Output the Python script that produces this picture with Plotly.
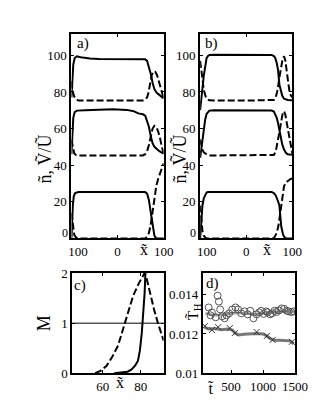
import plotly.graph_objects as go

# ---- panel a) profiles (solid = n, dashed = V/U), three stacked cases
a_top_solid_x = [-100, -98, -96, -93, -88, -80, -60, -40, -20, 0, 20, 40, 60, 64, 68, 72, 76, 80, 85, 90, 95, 100]
a_top_solid_y = [77, 88, 95, 98.5, 99.5, 99, 98.2, 98, 98, 98, 98, 98, 97.8, 97, 94, 90, 85, 81.5, 79.5, 78.5, 77.5, 76.5]
a_top_dash_x = [-100, -97, -94, -90, -85, -70, 0, 55, 60, 64, 67, 70, 74, 78, 82, 86, 90, 94, 97, 100]
a_top_dash_y = [86, 80, 77.5, 76, 75.3, 75.3, 75.3, 75.3, 75.8, 77, 79.5, 84, 89, 91.3, 91, 89, 85.5, 81, 78, 76.5]
a_mid_solid_x = [-100, -98, -96, -93, -88, -70, -40, -10, 20, 35, 45, 55, 60, 64, 68, 72, 76, 80, 85, 90, 95, 100]
a_mid_solid_y = [46, 58, 66, 69, 69.8, 70, 70.3, 70.5, 70.2, 69.5, 68.3, 67.8, 67, 64.5, 61, 56, 52, 50, 48.7, 47.8, 47, 46.3]
a_mid_dash_x = [-100, -97, -94, -90, -85, -70, 0, 55, 60, 64, 68, 72, 76, 80, 84, 88, 92, 96, 100]
a_mid_dash_y = [54, 49, 46.5, 45.5, 45.3, 45.3, 45.3, 45.3, 46, 47.5, 51, 56, 60, 61.5, 61, 58.5, 55, 50, 46.5]
a_bot_solid_x = [-100, -99, -97, -95, -92, -85, 0, 60, 64, 68, 71, 74, 77, 80, 83, 86, 100]
a_bot_solid_y = [0, 8, 18, 23, 24.8, 25.3, 25.3, 25.3, 24.5, 21, 16, 10.5, 5, 1.5, 0.3, 0, 0]
a_bot_dash_x = [-100, -97, -94, -90, -85, 0, 60, 64, 68, 72, 76, 80, 84, 88, 92, 96, 100]
a_bot_dash_y = [14, 6, 2, 0.5, 0, 0, 0, 1, 3, 7.5, 15, 23, 28.5, 32.5, 35.5, 38.5, 41]

# ---- panel b)
b_top_solid_x = [-100, -98, -95, -92, -89, -86, -83, -80, -70, 0, 55, 60, 63, 66, 69, 72, 75, 78, 82, 86, 90, 100]
b_top_solid_y = [70, 76, 82, 89, 95, 98.5, 99.7, 100.2, 100.3, 100.3, 100.2, 99.6, 98.5, 96, 92, 84, 80, 78, 76.3, 75.8, 75.6, 75.5]
b_top_dash_x = [-100, -98, -95, -92, -88, -84, -80, -70, 0, 55, 60, 64, 68, 72, 76, 79, 82, 85, 88, 91, 94, 97, 100]
b_top_dash_y = [97, 92, 86, 81, 77.5, 76, 75.4, 75.3, 75.3, 75.3, 75.6, 77, 81, 88, 94.5, 98, 99.5, 97, 91, 84, 80, 78, 77]
b_mid_solid_x = [-100, -98, -95, -92, -89, -86, -83, -80, -70, 0, 55, 60, 63, 66, 69, 72, 75, 78, 82, 86, 90, 100]
b_mid_solid_y = [44, 48, 54, 60, 65, 68, 69.3, 69.8, 70, 70, 69.8, 69.3, 67.5, 66, 63, 59, 55, 51.5, 48.5, 46.8, 46, 45.7]
b_mid_dash_x = [-100, -98, -95, -92, -88, -84, -80, -70, 0, 55, 60, 64, 68, 72, 76, 79, 82, 85, 88, 91, 94, 97, 100]
b_mid_dash_y = [54, 51, 48.5, 47, 46, 45.5, 45.3, 45.3, 45.3, 45.3, 45.6, 47.5, 52, 58, 64, 68, 69.5, 67.5, 63, 59, 54, 49, 46.5]
b_bot_solid_x = [-100, -99, -97, -95, -92, -89, -86, -83, -80, 0, 55, 60, 64, 68, 72, 74, 76, 80, 84, 88, 100]
b_bot_solid_y = [0, 5, 12, 18, 22, 24, 25, 25.3, 25.3, 25.3, 25.3, 24.8, 23.5, 21, 18, 12, 6.5, 2, 0.3, 0, 0]
b_bot_dash_x = [-100, -98, -95, -92, -88, -84, 0, 58, 62, 66, 70, 73, 76, 79, 82, 86, 90, 95, 100]
b_bot_dash_y = [18, 10, 4, 1.5, 0.3, 0, 0, 0, 1, 3, 7, 12, 18.5, 24, 28.5, 30.5, 31.5, 32.3, 32.8]

# ---- panel c) M vs x
c_dash_x = [56, 59, 62, 65, 68, 70, 73, 76, 79, 81, 82, 83, 85, 87, 89, 91, 92]
c_dash_y = [0.0, 0.05, 0.15, 0.33, 0.55, 0.8, 1.2, 1.55, 1.8, 1.95, 2.0, 1.9, 1.55, 1.27, 1.0, 0.76, 0.65]
c_solid_x = [66, 70, 73, 75, 77, 78.5, 79.5, 80.5, 81.3, 82, 82.5]
c_solid_y = [0, 0.01, 0.03, 0.07, 0.15, 0.25, 0.45, 0.8, 1.2, 1.6, 2.1]

# ---- panel d) T_H vs t
d_circ_t = [150, 180, 200, 260, 290, 310, 330, 360, 400, 430, 470, 520, 570, 610, 660, 710, 760, 800,
            850, 900, 940, 970, 1010, 1050, 1070, 1110, 1140, 1180, 1210, 1250, 1290, 1330, 1370, 1400, 1440, 1480]
d_circ_v = [0.01335, 0.01295, 0.0131, 0.01285, 0.01395, 0.01365, 0.01325, 0.0129, 0.0128, 0.01295, 0.01305,
            0.01325, 0.01335, 0.01325, 0.01305, 0.01315, 0.013, 0.01318, 0.0128, 0.013, 0.0131, 0.01318,
            0.01302, 0.01315, 0.0131, 0.013, 0.01305, 0.01318, 0.01312, 0.0132, 0.0133, 0.01328, 0.01318,
            0.01315, 0.01312, 0.01315]
d_upper_t = [100, 200, 300, 400, 500, 600, 700, 800, 900, 1000, 1100, 1200, 1300, 1400, 1500]
d_upper_v = [0.01305, 0.01298, 0.01295, 0.01300, 0.01305, 0.01308, 0.01305, 0.01302, 0.01300, 0.01305,
             0.01310, 0.01312, 0.01315, 0.01315, 0.01315]
d_lower_t = [80, 150, 250, 350, 450, 520, 560, 620, 700, 800, 900, 1000, 1060, 1120, 1180, 1250, 1350, 1420, 1480]
d_lower_v = [0.01235, 0.01225, 0.01228, 0.01222, 0.01225, 0.0122, 0.01205, 0.01195, 0.01198, 0.012, 0.01202,
             0.012, 0.0119, 0.01175, 0.01168, 0.01168, 0.01168, 0.01165, 0.0115]
d_cross_t = [90, 200, 300, 480, 560, 900, 1060, 1150, 1450]
d_cross_v = [0.0124, 0.0122, 0.01235, 0.0123, 0.01205, 0.0121, 0.0119, 0.0117, 0.0116]

x_ticktext = ["\u2002\u2002100", "0", "100"]
ny_tickvals = [0, 20, 40, 60, 80, 100]
ny_ticktext = ["", "20", "40", "60", "80", "100"]

FONT = "Liberation Serif, DejaVu Serif, serif"
W, H = 332, 406
DASH = "7px,3px"


def px(x):
    return x / W


def py(y):
    return 1 - y / H


fig = go.Figure()


def line(x, y, xa, ya, dashed=False, width=2):
    fig.add_trace(go.Scatter(
        x=x, y=y, xaxis=xa, yaxis=ya, mode="lines",
        line=dict(color="black", width=width, dash=DASH if dashed else "solid"),
        showlegend=False, hoverinfo="skip"))


# a)
line(a_top_solid_x, a_top_solid_y, "x", "y")
line(a_top_dash_x, a_top_dash_y, "x", "y", True)
line(a_mid_solid_x, a_mid_solid_y, "x", "y")
line(a_mid_dash_x, a_mid_dash_y, "x", "y", True)
line(a_bot_solid_x, a_bot_solid_y, "x", "y")
line(a_bot_dash_x, a_bot_dash_y, "x", "y", True)
# b)
line(b_top_solid_x, b_top_solid_y, "x2", "y2")
line(b_top_dash_x, b_top_dash_y, "x2", "y2", True)
line(b_mid_solid_x, b_mid_solid_y, "x2", "y2")
line(b_mid_dash_x, b_mid_dash_y, "x2", "y2", True)
line(b_bot_solid_x, b_bot_solid_y, "x2", "y2")
line(b_bot_dash_x, b_bot_dash_y, "x2", "y2", True)
# c)
line(c_dash_x, c_dash_y, "x3", "y3", True)
line(c_solid_x, c_solid_y, "x3", "y3")
# d)
fig.add_trace(go.Scatter(x=d_upper_t, y=d_upper_v, xaxis="x4", yaxis="y4", mode="lines",
                         line=dict(color="#999999", width=2.5), showlegend=False))
fig.add_trace(go.Scatter(x=d_lower_t, y=d_lower_v, xaxis="x4", yaxis="y4", mode="lines",
                         line=dict(color="#777777", width=3), showlegend=False))
fig.add_trace(go.Scatter(x=d_cross_t, y=d_cross_v, xaxis="x4", yaxis="y4", mode="markers",
                         marker=dict(symbol="x-thin-open", size=6, color="#333333",
                                     line=dict(color="#333333", width=1)),
                         showlegend=False))
fig.add_trace(go.Scatter(x=d_circ_t, y=d_circ_v, xaxis="x4", yaxis="y4", mode="markers",
                         marker=dict(symbol="circle-open", size=7, color="#555555", line=dict(width=1)),
                         showlegend=False))

tickfont = dict(family=FONT, size=13, color="black")
common = dict(showline=True, linewidth=2, linecolor="black", mirror="allticks", ticks="inside",
              ticklen=3, tickwidth=1, tickcolor="black", showgrid=False, zeroline=False,
              tickfont=tickfont)

top_dom = [py(232), py(20)]
bot_dom = [py(372), py(268)]

fig.update_layout(
    width=W, height=H, margin=dict(l=0, r=0, t=0, b=0),
    paper_bgcolor="white", plot_bgcolor="white",
    font=dict(family=FONT, color="black"),
    xaxis=dict(domain=[px(52), px(153)], range=[-100, 100], tickvals=[-100, 0, 100],
               ticktext=x_ticktext, anchor="y", **common),
    yaxis=dict(domain=top_dom, range=[0, 111.5], tickvals=ny_tickvals, ticktext=ny_ticktext,
               anchor="x", **common),
    xaxis2=dict(domain=[px(193), px(294)], range=[-100, 100], tickvals=[-100, 0, 100],
                ticktext=x_ticktext, anchor="y2", **common),
    yaxis2=dict(domain=top_dom, range=[0, 111.5], tickvals=ny_tickvals, ticktext=ny_ticktext,
                anchor="x2", **common),
    xaxis3=dict(domain=[px(53), px(153)], range=[44, 92], tickvals=[60, 80], anchor="y3", **common),
    yaxis3=dict(domain=bot_dom, range=[0, 2], tickvals=[0, 1, 2], anchor="x3", **common),
    xaxis4=dict(domain=[px(196), px(297)], range=[60, 1500], tickvals=[500, 1000, 1500], anchor="y4", **common),
    yaxis4=dict(domain=bot_dom, range=[0.01, 0.0151], tickvals=[0.01, 0.012, 0.014],
                ticktext=["0.01", "0.012", "0.014"], anchor="x4", **common),
)

# reference line M = 1
fig.add_shape(type="line", xref="x3 domain", yref="y3", x0=0, x1=1, y0=1, y1=1,
              line=dict(color="black", width=1))

# raised "0" labels at the lower-left corners of a) and b)
for yref, xpix in (("y", 50), ("y2", 191)):
    fig.add_annotation(text="0", x=px(xpix), y=ny_tickvals[0], xref="paper", yref=yref,
                       showarrow=False, xanchor="right", yanchor="middle", yshift=5,
                       font=dict(family=FONT, size=12, color="black"))


def label(text, x, y, size, angle=0):
    fig.add_annotation(text=text, x=px(x), y=py(y), xref="paper", yref="paper",
                       showarrow=False, textangle=angle, xanchor="center", yanchor="middle",
                       font=dict(family=FONT, size=size, color="black"))


label("a)", 65, 30, 15)
label("b)", 205, 30, 15)
label("c)", 61, 281, 15)
label("d)", 206, 279, 15)
label("n\u0303, V\u0303/U\u0303", 22, 150, 18, -90)
label("n\u0303, V\u0303/U\u0303", 170, 150, 18, -90)
label("M", 22, 320, 18, -90)
label("T\u0303<sub>H</sub>", 186, 308, 15, -90)
label("x\u0303", 131, 243, 16)
label("x\u0303", 266, 243, 16)
label("x\u0303", 105, 382, 16)
label("t\u0303", 205, 388, 16)

fig.write_html("out.html")
